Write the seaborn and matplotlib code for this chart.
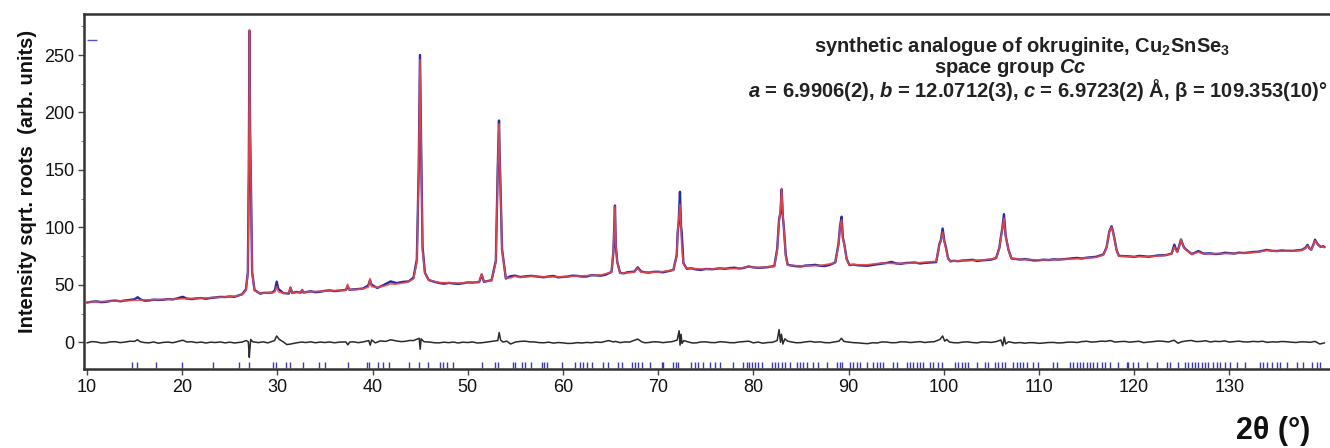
import numpy as np
import pandas as pd
import matplotlib
matplotlib.use("Agg")
import matplotlib.pyplot as plt
import seaborn as sns
from matplotlib.ticker import MultipleLocator

# ---------------- data ----------------
# calculated profile: (2theta, intensity)
calc_points = [
    (10.0, 35.0), (12, 35.6), (14, 36.2), (16, 36.8), (18, 37.3), (20, 37.8), (22, 38.4), (24, 39.2),
    (25.5, 40.0), (26.3, 41.5), (26.7, 45), (26.9, 60), (27.0, 150), (27.07, 272), (27.13, 185),
    (27.2, 150), (27.35, 60), (27.6, 45), (28.2, 42.6), (29.5, 43.2), (29.75, 44), (29.93, 48.5),
    (30.1, 44), (30.6, 42.8), (31.2, 43), (31.38, 48), (31.55, 43.2), (32.45, 43.5), (32.6, 46),
    (32.75, 43.6), (34, 44.2), (36, 45), (37.2, 45.4), (37.38, 50.5), (37.55, 45.6), (39.0, 46.5),
    (39.55, 48), (39.73, 55.5), (39.9, 48.5), (40.5, 47.8), (41.5, 49.5), (41.9, 51), (42.3, 50.5),
    (43.5, 52), (44.3, 55), (44.65, 70), (44.85, 150), (44.98, 246), (45.05, 200), (45.12, 159),
    (45.25, 80), (45.5, 60), (45.9, 54), (47, 52), (49, 51.5), (51.2, 52.5), (51.46, 59.5), (51.7, 53),
    (52.5, 53.5), (52.95, 70), (53.15, 150), (53.28, 190), (53.35, 160), (53.42, 140), (53.6, 80),
    (54.0, 56), (54.5, 56), (54.96, 57.5), (55.5, 56.5), (56.7, 57.5), (58, 57), (60, 57), (62, 57.8),
    (64, 58.6), (65.1, 61), (65.3, 80), (65.46, 118), (65.55, 85), (65.7, 70), (66.0, 60), (67.5, 61),
    (67.85, 64.5), (68.2, 61), (70, 61), (71.6, 62.8), (71.95, 75), (72.05, 95), (72.15, 105),
    (72.29, 120), (72.4, 100), (72.47, 85), (72.65, 68), (73, 64.4), (75.4, 63.5), (76.5, 64.4),
    (78, 64), (79.47, 65.5), (80.5, 65), (82.2, 66), (82.5, 80), (82.7, 105), (82.85, 115),
    (82.97, 134), (83.1, 110), (83.2, 99), (83.4, 75), (83.6, 67), (85, 66.5), (87, 66.8), (88.6, 69),
    (88.95, 85), (89.1, 100), (89.27, 106.5), (89.4, 90), (89.55, 85), (89.8, 72), (90.1, 67.5),
    (92, 67.5), (93.5, 69), (95, 68.5), (97, 69), (99.2, 70.5), (99.45, 80), (99.53, 84.5), (99.7, 88),
    (99.88, 96), (100.05, 88), (100.23, 81.5), (100.45, 73), (100.7, 70.5), (102, 71), (104, 71.5),
    (105.5, 73), (105.85, 82), (106.0, 91), (106.15, 98), (106.32, 108), (106.5, 92), (106.6, 89),
    (106.8, 80), (107.1, 73), (108, 72.2), (110.5, 71.6), (114, 72.7), (116.0, 74), (116.76, 76),
    (117.1, 82), (117.39, 96), (117.63, 100), (117.8, 95), (117.98, 87.5), (118.15, 80), (118.4, 75),
    (119.5, 74.5), (121, 74.5), (123, 75.3), (123.94, 77), (124.22, 83), (124.4, 80), (124.53, 78.5),
    (124.75, 84), (124.92, 89.5), (125.1, 85), (125.24, 82), (125.52, 80), (126.04, 76.5),
    (126.74, 78.5), (127.3, 77), (128, 77), (130, 77.3), (131.5, 77.6), (133.0, 78.5), (133.92, 80),
    (135, 79.2), (136.72, 79.4), (137.6, 80), (138.0, 81.8), (138.2, 84), (138.4, 81.5), (138.6, 80.5),
    (138.85, 85), (139.0, 88.5), (139.2, 86), (139.35, 84.5), (139.6, 83), (139.87, 83.2), (140.0, 82.5),
]

# observed profile: (2theta, intensity)
obs_points = [
    (10.0, 34.6), (10.5, 35.3), (11, 35.6), (11.5, 34.9), (12, 35.2), (12.5, 36.0), (13, 36.3), (13.5, 35.7),
    (14, 36.4), (14.5, 36.9), (15, 37.4), (15.32, 39.2), (15.7, 37.0), (16.1, 36.2), (16.5, 36.4),
    (17, 37.1), (17.5, 36.9), (18, 37.0), (18.5, 37.6), (19, 37.3), (19.5, 38.2), (20.05, 39.6),
    (20.5, 38.0), (21, 37.6), (21.5, 38.2), (22, 38.5), (22.5, 37.9), (23, 38.6), (23.5, 39.0),
    (24, 39.5), (24.5, 39.4), (25, 39.9), (25.5, 39.6), (26.3, 41.8), (26.7, 46), (26.9, 61),
    (27.0, 150), (27.07, 271), (27.13, 186), (27.2, 152), (27.35, 61), (27.6, 45.5), (28.2, 42.3),
    (28.6, 43.1), (29, 43.0), (29.5, 43.4), (29.75, 45.5), (29.93, 52.8), (30.1, 46.5), (30.6, 42.9),
    (31.2, 42.4), (31.38, 47.5), (31.55, 43.0), (32.0, 43.8), (32.45, 43.2), (32.6, 45.5), (32.75, 43.3),
    (33.5, 44.4), (34, 43.6), (34.5, 44.0), (35, 44.8), (35.5, 45.2), (36, 44.5), (36.5, 45.0),
    (37.2, 45.6), (37.38, 49.0), (37.55, 45.8), (38.3, 46.2), (39.0, 46.8), (39.55, 49.5), (39.73, 54.0),
    (39.9, 50.0), (40.5, 47.3), (41.2, 50.0), (41.9, 53.0), (42.5, 51.5), (43.2, 52.6), (43.8, 53.0),
    (44.3, 56.3), (44.65, 72), (44.85, 152), (44.98, 250), (45.05, 203), (45.12, 160), (45.25, 83),
    (45.5, 60.5), (45.9, 54.2), (46.5, 52.6), (47, 51.6), (47.5, 51.0), (48, 51.7), (48.5, 51.2),
    (49, 50.8), (49.5, 51.4), (50, 52.1), (50.5, 52.0), (51.2, 52.4), (51.46, 59.0), (51.7, 52.6),
    (52.5, 54.0), (52.95, 71), (53.15, 152), (53.28, 193), (53.35, 162), (53.42, 141), (53.6, 81),
    (54.0, 55.5), (54.5, 57.5), (54.96, 58.0), (55.5, 56.8), (56.2, 57.5), (56.7, 57.8), (57.5, 57.0),
    (58, 56.6), (58.5, 57.3), (59, 57.7), (59.5, 56.5), (60, 56.9), (60.5, 57.2), (61, 58.0), (61.5, 57.8),
    (62, 57.2), (62.5, 57.3), (63, 58.4), (63.5, 58.2), (64, 58.0), (64.5, 58.9), (65.1, 61.2), (65.3, 79),
    (65.46, 119), (65.55, 84), (65.7, 70), (66.0, 60.4), (66.4, 60.0), (66.8, 61.0), (67.5, 61.5),
    (67.85, 65.2), (68.2, 61.6), (68.6, 61.0), (69, 60.6), (69.5, 61.3), (70, 61.4), (70.5, 60.9), (71, 61.8),
    (71.6, 63.0), (71.95, 76), (72.05, 96), (72.15, 104), (72.29, 131), (72.4, 101), (72.47, 96),
    (72.65, 69), (73, 64.0), (73.5, 64.4), (74, 63.4), (74.5, 63.0), (75, 63.8), (75.7, 63.6),
    (76.5, 64.4), (77, 63.9), (77.5, 64.6), (78, 64.9), (78.5, 64.2), (79, 64.7), (79.47, 66.0), (80, 65.2),
    (80.5, 64.8), (81, 65.0), (81.5, 65.4), (82.2, 66.4), (82.5, 81), (82.7, 107), (82.85, 113),
    (82.97, 133), (83.1, 109), (83.2, 100), (83.4, 76), (83.6, 67.5), (84, 66.8), (84.5, 66.2), (85, 66.0),
    (85.5, 66.8), (86, 67.0), (86.5, 67.4), (87, 66.6), (87.5, 66.4), (88, 67.3), (88.6, 69.5), (88.95, 86),
    (89.1, 101), (89.27, 109.3), (89.4, 91), (89.55, 85.5), (89.8, 72.5), (90.1, 67.2), (90.5, 67.6),
    (91, 67.0), (91.5, 66.8), (92, 66.6), (92.7, 67.5), (93.5, 68.4), (94, 69.0), (94.5, 70.0), (95, 68.6),
    (95.5, 68.3), (96, 69.0), (96.5, 69.2), (97, 69.4), (97.5, 68.6), (98, 69.1), (98.5, 69.4),
    (99.2, 69.8), (99.45, 81), (99.53, 85.2), (99.7, 89), (99.88, 99), (100.05, 88.5), (100.23, 82.5),
    (100.45, 73.2), (100.7, 70.4), (101, 70.9), (101.5, 70.6), (102, 71.2), (102.5, 71.4), (103, 71.8),
    (103.5, 70.8), (104, 71.3), (104.5, 71.6), (105, 72.0), (105.5, 73.4), (105.85, 82.5), (106.0, 92),
    (106.15, 99), (106.32, 111.5), (106.5, 93), (106.6, 88.5), (106.8, 80.5), (107.1, 73.0), (107.5, 72.6),
    (108, 72.0), (108.5, 72.4), (109, 71.8), (109.5, 71.2), (110, 71.4), (110.5, 71.9), (111, 71.6),
    (111.5, 72.2), (112, 72.0), (112.5, 72.3), (113, 72.6), (113.5, 73.1), (114, 73.4), (114.5, 72.9),
    (115, 73.6), (115.5, 74.0), (116.0, 74.4), (116.76, 76.4), (117.1, 82.5), (117.39, 96.5),
    (117.63, 101), (117.8, 95.5), (117.98, 88), (118.15, 80.3), (118.4, 75.2), (119, 75.0), (119.5, 74.8),
    (120, 74.3), (120.5, 75.2), (121, 74.9), (121.5, 74.4), (122, 75.0), (122.5, 75.6), (123.3, 75.8),
    (123.94, 77.2), (124.22, 85), (124.4, 80.5), (124.53, 78.8), (124.75, 84.5), (124.92, 89.5),
    (125.1, 85.3), (125.24, 82.4), (125.52, 80.3), (126.04, 76.8), (126.4, 78.0), (126.74, 79.4),
    (127.3, 77.2), (128, 77.4), (128.5, 76.8), (129, 77.0), (129.5, 77.9), (130, 77.6), (130.5, 77.2),
    (131, 78.0), (131.5, 77.7), (132, 78.1), (132.5, 78.6), (133.0, 78.8), (133.92, 80.4), (134.5, 79.6),
    (135, 79.4), (135.5, 79.9), (136, 79.6), (136.72, 79.6), (137.2, 80.1), (137.6, 80.4), (138.0, 82.3),
    (138.2, 84.8), (138.4, 81.8), (138.6, 80.6), (138.85, 85.5), (139.0, 89.3), (139.2, 86.3),
    (139.35, 84.8), (139.6, 83.0), (139.87, 83.6), (140.0, 82.8),
]

# difference curve: (2theta, obs - calc)
diff_points = [
    (10, -0.5), (10.5, 0.6), (11, 0.3), (11.5, -0.6), (12, -0.4), (12.5, 0.4), (13, 0.5), (13.5, -0.3),
    (14, 0.2), (14.5, 0.9), (15, 0.8), (15.3, 2.2), (15.6, 0.5), (16, -0.2), (16.5, -0.5), (17, 0.3),
    (17.5, -0.8), (18, -0.1), (18.5, 0.2), (19, -0.4), (19.5, 0.6), (20.05, 1.8), (20.5, 0.3), (21, 0.5),
    (21.5, -0.3), (22, 0.2), (22.5, -0.6), (23, 0.1), (23.5, -0.2), (24, 0.3), (24.5, -0.5), (25, 0.1),
    (25.5, -0.6), (26.3, 0.2), (26.7, 1.5), (26.95, 0.5), (27.05, -13), (27.12, -5), (27.2, 2.5),
    (27.4, 0.5), (28, -0.3), (28.5, 0.4), (29, -0.5), (29.7, 1.5), (29.93, 5.5), (30.2, 2.5), (30.6, 0.5),
    (31.0, -2.0), (31.4, -1.5), (32, -0.5), (32.5, 0.2), (33, -0.2), (33.5, 0.4), (34, -0.4), (34.5, 0.2),
    (35, -0.2), (35.5, 0.3), (36, -0.4), (36.6, 0.2), (37.2, 0.3), (37.4, -2.2), (37.6, 0.2), (38, 0.4),
    (38.5, -0.3), (39, 0.3), (39.6, 1.5), (39.75, -2.5), (39.9, 2.0), (40.3, -0.5), (40.8, 1.2),
    (41.4, 0.8), (41.9, 2.2), (42.5, 1.2), (43, 0.6), (43.4, 0.8), (43.9, 1.6), (44.3, 1.5), (44.9, 3.5),
    (45.0, -6), (45.1, 3), (45.4, 0.5), (46, 0.2), (46.5, -0.4), (47, -0.5), (47.5, 0.1), (48, -0.3),
    (48.5, 0.2), (49, -0.6), (49.5, 0.1), (50, -0.2), (50.5, 0.3), (51, -0.6), (51.46, -0.4), (52.3, 0.5),
    (53.15, 1.5), (53.3, 8.5), (53.45, 2.0), (53.7, 0.2), (54.1, 1.0), (54.5, -1.5), (55, 0.2), (55.5, 0.8),
    (56, 1.0), (56.5, 0.4), (57, 0.3), (57.5, -0.3), (58, -0.4), (58.5, 0.1), (59, -0.7), (59.5, -0.2),
    (60, -0.5), (60.5, -1.0), (61, -0.9), (61.5, -0.3), (62, -0.6), (62.5, -0.1), (63, -0.4), (63.5, 0.2),
    (64, -0.1), (64.8, 1.5), (65.3, 0.3), (65.5, 0.8), (66, -0.3), (66.5, 0.3), (67, 0.2), (67.85, 2.8),
    (68.3, 0.3), (68.6, -0.4), (69, -0.2), (69.5, 0.4), (70, 0.3), (70.5, -0.3), (71, 0.2), (71.5, 0.6),
    (72.0, 2.0), (72.2, 10), (72.3, -2.5), (72.4, 7), (72.5, -1), (72.7, 1.5), (73.2, 0.2), (73.6, -0.6),
    (74, -0.5), (74.5, 0.3), (75, 0.4), (75.5, -0.2), (76, -0.3), (76.5, 0.5), (77, 0.2), (77.5, -0.3),
    (78, -0.4), (78.5, 0.3), (79, 0.6), (79.5, 1.0), (80, -0.5), (80.5, 0.2), (81, -0.8), (81.5, -0.2),
    (82, 0.0), (82.5, 1.5), (82.7, 11), (82.85, 0), (82.95, 7), (83.1, -1.5), (83.3, 3), (83.6, 1),
    (84, 0.3), (84.5, -0.4), (85, -0.3), (85.5, 0.4), (86, 0.8), (86.5, 0.1), (87, 0.4), (87.5, -0.3),
    (88, -0.4), (88.5, 0.3), (89.0, 1), (89.25, 3.5), (89.5, 0.8), (90, 0.2), (90.5, -0.3), (91, -0.5),
    (91.5, -0.9), (92, -1.2), (92.5, -0.4), (93, -0.6), (93.5, 0.3), (94, 0.2), (94.5, -0.4), (95, -0.3),
    (95.5, 0.4), (96, 0.3), (96.5, -0.2), (97, 0.2), (97.5, 0.6), (98, -0.2), (98.5, 0.3), (99, 0.5),
    (99.6, 2.5), (99.88, 5.5), (100.1, 1), (100.3, 2.5), (100.6, 0.2), (101, -0.3), (101.5, -0.5),
    (102, 0.2), (102.5, 0.4), (103, -0.2), (103.5, -0.5), (104, 0.3), (104.5, 0.2), (105, -0.1),
    (105.5, 0.6), (106.0, 2), (106.2, -3), (106.35, 4.5), (106.5, -1.5), (106.8, 0.5), (107.2, -0.2),
    (107.5, -0.6), (108, -0.2), (108.5, -0.8), (109, -0.3), (109.5, -0.4), (110, -0.9), (110.5, -0.6),
    (111, -0.2), (111.5, -0.1), (112, -0.6), (112.5, -0.4), (113, 0.1), (113.5, 0.2), (114, -0.2),
    (114.5, 0.6), (115, 0.9), (115.5, 0.2), (116, 0.4), (116.5, 1.0), (117, 0.8), (117.5, 1.5),
    (118, 0.2), (118.5, 0.6), (119, 0.8), (119.5, 0.1), (120, 0.5), (120.5, 0.9), (121, -0.3),
    (121.5, 0.2), (122, 0.6), (122.5, 1.1), (123, 0.9), (123.6, 0.3), (124.2, 1.8), (124.6, -0.8),
    (125, 0.5), (125.5, 1.2), (126, 1.6), (126.5, 0.6), (127, 0.8), (127.5, 1.3), (128, 0.3), (128.5, 0.9),
    (129, 0.6), (129.5, 1.2), (130, 0.2), (130.5, 0.6), (131, 1.0), (131.5, 0.4), (132, 0.3), (132.5, 0.8),
    (133, 0.5), (133.5, 0.9), (134, -0.1), (134.5, 0.4), (135, 0.2), (135.5, 0.7), (136, 0.5),
    (136.5, 0.1), (137, -0.2), (137.5, 0.4), (138, 0.3), (138.5, 0.0), (139, 0.8), (139.5, -1.5),
    (140, -0.5),
]

# Bragg reflection positions (2theta)
bragg_tt = [14.69, 15.29, 17.25, 19.95, 23.27, 25.97, 27.05, 29.57, 29.85, 30.90, 31.32, 32.66, 34.40, 35.0,
            37.45, 39.38, 39.66, 40.6, 41.12, 41.75, 43.86, 44.91, 45.85, 47.08, 47.43, 47.84, 48.48,
            51.46, 52.86, 53.2, 54.71, 54.96, 55.66, 56.0, 56.6, 57.76, 58.0, 58.29, 59.86, 61.26, 61.79,
            62.07, 62.49, 63.01, 64.24, 64.76, 65.81, 66.16, 67.21, 67.56, 67.91, 68.27, 69.14, 70.37, 70.54,
            71.59, 71.87, 72.11, 73.5, 73.87, 74.21, 74.74, 75.44, 75.97, 76.49, 77.89, 78.94, 79.3, 79.57,
            79.82, 80.17, 80.51, 80.87, 81.92, 82.27, 82.62, 82.97, 83.32, 83.84, 84.55, 84.9, 85.24, 85.6,
            86.3, 86.82, 87.7, 88.75, 89.1, 89.27, 90.15, 90.5, 90.85, 91.2, 91.9, 92.6, 92.95, 93.3, 93.65,
            94.7, 95.05, 96.1, 96.45, 96.8, 97.15, 97.5, 97.85, 98.55, 98.9, 99.42, 99.78, 101.18, 101.53,
            101.88, 102.23, 102.58, 103.46, 104.33, 104.68, 105.38, 105.73, 106.08, 106.43, 107.3, 107.66,
            108.0, 108.35, 108.71, 109.41, 109.93, 111.5, 111.86, 113.26, 113.61, 113.96, 114.3, 114.66,
            115.01, 115.36, 115.71, 116.06, 116.58, 116.93, 117.46, 118.33, 119.21, 119.38, 119.9, 120.43,
            121.31, 122.36, 123.41, 123.76, 124.63, 125.34, 125.69, 126.04, 126.39, 126.74, 127.09, 127.44,
            127.79, 128.31, 128.67, 129.0, 129.54, 130.06, 130.77, 131.64, 133.21, 133.56, 133.92, 134.44,
            134.97, 135.32, 136.02, 137.07, 137.76, 138.64, 139.17, 139.52]

x_ticks = [10, 20, 30, 40, 50, 60, 70, 80, 90, 100, 110, 120, 130]
y_ticks = [0, 50, 100, 150, 200, 250]

line1 = "synthetic analogue of okruginite, Cu$_\\mathbf{2}$SnSe$_\\mathbf{3}$"
line2 = "space group $\\mathbfit{Cc}$"
line3 = ("$\\mathbfit{a}$ = 6.9906(2), $\\mathbfit{b}$ = 12.0712(3), "
         "$\\mathbfit{c}$ = 6.9723(2) Å, β = 109.353(10)°")
y_label = "Intensity sqrt. roots  (arb. units)"
x_label = "2θ (°)"

# ---------------- plotting ----------------
sns.set_theme(style="white")
plt.rcParams["font.family"] = ["Liberation Sans", "DejaVu Sans"]
plt.rcParams["mathtext.fontset"] = "custom"
plt.rcParams["mathtext.rm"] = "Liberation Sans:bold"
plt.rcParams["mathtext.it"] = "Liberation Sans:bold:italic"
plt.rcParams["mathtext.bf"] = "Liberation Sans:bold"
plt.rcParams["mathtext.bfit"] = "Liberation Sans:bold:italic"

W, H = 1330, 448
fig = plt.figure(figsize=(W / 100, H / 100), dpi=100)
left_px, right_px, top_px, bot_px = 84.3, 1330, 14, 369.3
ax = fig.add_axes([left_px / W, 1 - bot_px / H, (right_px - left_px) / W, (bot_px - top_px) / H])

df_obs = pd.DataFrame(obs_points, columns=["tt", "I"])
df_calc = pd.DataFrame(calc_points, columns=["tt", "I"])
df_diff = pd.DataFrame(diff_points, columns=["tt", "I"])

sns.lineplot(data=df_obs, x="tt", y="I", ax=ax, color="#2b2b9e", lw=1.7, estimator=None)
sns.lineplot(data=df_calc, x="tt", y="I", ax=ax, color="#f04848", lw=1.2, alpha=0.88, estimator=None)
sns.lineplot(data=df_diff, x="tt", y="I", ax=ax, color="#2a2a2a", lw=1.1, estimator=None)
ax.vlines(bragg_tt, -22.3, -17.3, color="#3a3ab4", lw=1.0)
ax.hlines([263], 10.0, 11.05, color="#5555c0", lw=1.0)

ax.set_xlim(9.72, 140.57)
ax.set_ylim(-23.5, 285.7)
ax.set_xticks(x_ticks)
ax.set_yticks(y_ticks)
ax.yaxis.set_minor_locator(MultipleLocator(25))
ax.tick_params(axis="both", which="major", direction="out", length=4, width=1, color="#444444",
               labelsize=13, labelcolor="#111111", pad=3, left=True, bottom=True)
ax.tick_params(axis="y", which="minor", direction="out", length=2, width=0.8, color="#888888", left=True)
for s in ["left", "bottom", "top"]:
    ax.spines[s].set_color("#333333")
    ax.spines[s].set_linewidth(1.8)
ax.spines["right"].set_visible(False)

ax.set_xlabel("")
ax.set_ylabel(y_label, fontsize=14.5, fontweight="bold", color="#111111")
ax.yaxis.set_label_coords((37 - left_px) / (right_px - left_px), (bot_px - 181) / (bot_px - top_px))

fig.text(1022 / W, 1 - 47 / H, line1, ha="center", va="center", fontsize=14.5,
         fontweight="bold", color="#222222")
fig.text(1010 / W, 1 - 68 / H, line2, ha="center", va="center", fontsize=14.5,
         fontweight="bold", color="#222222")
fig.text(1327 / W, 1 - 90 / H, line3, ha="right", va="center", fontsize=14.5,
         fontweight="bold", color="#222222")
fig.text(1273 / W, 1 - 431 / H, x_label, ha="center", va="center", fontsize=22,
         fontweight="bold", color="#111111")

fig.savefig("out.png", dpi=100)
